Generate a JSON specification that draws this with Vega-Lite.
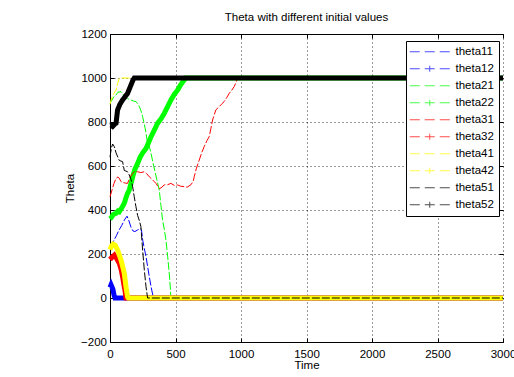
{
  "$schema": "https://vega.github.io/schema/vega-lite/v6.json",
  "width": 393,
  "height": 308,
  "autosize": "none",
  "padding": {"left": 110, "top": 34, "right": 11, "bottom": 35},
  "background": "white",
  "config": {
    "view": {"stroke": null},
    "font": "Liberation Sans"
  },
  "title": {"text": "Theta with different initial values", "font": "Liberation Sans", "fontSize": 11.5, "fontWeight": "normal", "color": "black", "offset": 5},
  "data": {"values": [
    {"series": "theta11", "t": 0, "v": 240}, {"series": "theta11", "t": 10, "v": 235}, {"series": "theta11", "t": 30, "v": 262}, {"series": "theta11", "t": 50, "v": 285}, {"series": "theta11", "t": 70, "v": 310}, {"series": "theta11", "t": 90, "v": 330}, {"series": "theta11", "t": 110, "v": 355}, {"series": "theta11", "t": 130, "v": 372}, {"series": "theta11", "t": 145, "v": 350}, {"series": "theta11", "t": 160, "v": 322}, {"series": "theta11", "t": 175, "v": 305}, {"series": "theta11", "t": 190, "v": 302}, {"series": "theta11", "t": 210, "v": 309}, {"series": "theta11", "t": 230, "v": 315}, {"series": "theta11", "t": 240, "v": 310}, {"series": "theta11", "t": 250, "v": 262}, {"series": "theta11", "t": 262, "v": 225}, {"series": "theta11", "t": 275, "v": 188}, {"series": "theta11", "t": 288, "v": 140}, {"series": "theta11", "t": 300, "v": 97}, {"series": "theta11", "t": 312, "v": 55}, {"series": "theta11", "t": 325, "v": 18}, {"series": "theta11", "t": 330, "v": 0}, {"series": "theta11", "t": 3000, "v": 0},
    {"series": "theta12", "t": 0, "v": 48}, {"series": "theta12", "t": 8, "v": 60}, {"series": "theta12", "t": 15, "v": 50}, {"series": "theta12", "t": 22, "v": 40}, {"series": "theta12", "t": 30, "v": 15}, {"series": "theta12", "t": 38, "v": 0}, {"series": "theta12", "t": 3000, "v": 0},
    {"series": "theta21", "t": 0, "v": 885}, {"series": "theta21", "t": 10, "v": 895}, {"series": "theta21", "t": 30, "v": 915}, {"series": "theta21", "t": 46, "v": 923}, {"series": "theta21", "t": 60, "v": 935}, {"series": "theta21", "t": 84, "v": 938}, {"series": "theta21", "t": 100, "v": 925}, {"series": "theta21", "t": 122, "v": 915}, {"series": "theta21", "t": 140, "v": 905}, {"series": "theta21", "t": 160, "v": 900}, {"series": "theta21", "t": 180, "v": 895}, {"series": "theta21", "t": 198, "v": 893}, {"series": "theta21", "t": 215, "v": 880}, {"series": "theta21", "t": 224, "v": 870}, {"series": "theta21", "t": 237, "v": 850}, {"series": "theta21", "t": 249, "v": 824}, {"series": "theta21", "t": 262, "v": 790}, {"series": "theta21", "t": 275, "v": 750}, {"series": "theta21", "t": 287, "v": 700}, {"series": "theta21", "t": 300, "v": 690}, {"series": "theta21", "t": 313, "v": 658}, {"series": "theta21", "t": 330, "v": 610}, {"series": "theta21", "t": 351, "v": 555}, {"series": "theta21", "t": 376, "v": 491}, {"series": "theta21", "t": 389, "v": 420}, {"series": "theta21", "t": 401, "v": 355}, {"series": "theta21", "t": 415, "v": 310}, {"series": "theta21", "t": 427, "v": 264}, {"series": "theta21", "t": 440, "v": 190}, {"series": "theta21", "t": 452, "v": 113}, {"series": "theta21", "t": 460, "v": 50}, {"series": "theta21", "t": 465, "v": 0}, {"series": "theta21", "t": 3000, "v": 0},
    {"series": "theta22", "t": 0, "v": 360}, {"series": "theta22", "t": 10, "v": 365}, {"series": "theta22", "t": 25, "v": 380}, {"series": "theta22", "t": 46, "v": 385}, {"series": "theta22", "t": 60, "v": 395}, {"series": "theta22", "t": 71, "v": 392}, {"series": "theta22", "t": 90, "v": 410}, {"series": "theta22", "t": 109, "v": 431}, {"series": "theta22", "t": 130, "v": 470}, {"series": "theta22", "t": 147, "v": 491}, {"series": "theta22", "t": 160, "v": 520}, {"series": "theta22", "t": 173, "v": 551}, {"series": "theta22", "t": 190, "v": 585}, {"series": "theta22", "t": 211, "v": 612}, {"series": "theta22", "t": 230, "v": 640}, {"series": "theta22", "t": 250, "v": 660}, {"series": "theta22", "t": 275, "v": 680}, {"series": "theta22", "t": 290, "v": 700}, {"series": "theta22", "t": 313, "v": 733}, {"series": "theta22", "t": 340, "v": 765}, {"series": "theta22", "t": 363, "v": 794}, {"series": "theta22", "t": 390, "v": 815}, {"series": "theta22", "t": 414, "v": 839}, {"series": "theta22", "t": 440, "v": 870}, {"series": "theta22", "t": 465, "v": 900}, {"series": "theta22", "t": 490, "v": 925}, {"series": "theta22", "t": 516, "v": 945}, {"series": "theta22", "t": 540, "v": 970}, {"series": "theta22", "t": 567, "v": 991}, {"series": "theta22", "t": 575, "v": 1000}, {"series": "theta22", "t": 3000, "v": 1000},
    {"series": "theta31", "t": 0, "v": 460}, {"series": "theta31", "t": 15, "v": 490}, {"series": "theta31", "t": 30, "v": 520}, {"series": "theta31", "t": 46, "v": 544}, {"series": "theta31", "t": 60, "v": 550}, {"series": "theta31", "t": 70, "v": 545}, {"series": "theta31", "t": 84, "v": 529}, {"series": "theta31", "t": 100, "v": 525}, {"series": "theta31", "t": 120, "v": 522}, {"series": "theta31", "t": 134, "v": 521}, {"series": "theta31", "t": 150, "v": 545}, {"series": "theta31", "t": 173, "v": 567}, {"series": "theta31", "t": 190, "v": 575}, {"series": "theta31", "t": 211, "v": 574}, {"series": "theta31", "t": 235, "v": 570}, {"series": "theta31", "t": 262, "v": 574}, {"series": "theta31", "t": 280, "v": 565}, {"series": "theta31", "t": 300, "v": 551}, {"series": "theta31", "t": 320, "v": 540}, {"series": "theta31", "t": 338, "v": 529}, {"series": "theta31", "t": 351, "v": 521}, {"series": "theta31", "t": 376, "v": 498}, {"series": "theta31", "t": 389, "v": 500}, {"series": "theta31", "t": 414, "v": 514}, {"series": "theta31", "t": 440, "v": 515}, {"series": "theta31", "t": 465, "v": 521}, {"series": "theta31", "t": 490, "v": 512}, {"series": "theta31", "t": 516, "v": 514}, {"series": "theta31", "t": 540, "v": 508}, {"series": "theta31", "t": 567, "v": 506}, {"series": "theta31", "t": 590, "v": 504}, {"series": "theta31", "t": 618, "v": 515}, {"series": "theta31", "t": 635, "v": 530}, {"series": "theta31", "t": 643, "v": 551}, {"series": "theta31", "t": 660, "v": 590}, {"series": "theta31", "t": 681, "v": 627}, {"series": "theta31", "t": 700, "v": 660}, {"series": "theta31", "t": 719, "v": 688}, {"series": "theta31", "t": 740, "v": 715}, {"series": "theta31", "t": 757, "v": 733}, {"series": "theta31", "t": 770, "v": 770}, {"series": "theta31", "t": 783, "v": 809}, {"series": "theta31", "t": 808, "v": 855}, {"series": "theta31", "t": 834, "v": 870}, {"series": "theta31", "t": 850, "v": 880}, {"series": "theta31", "t": 872, "v": 893}, {"series": "theta31", "t": 890, "v": 910}, {"series": "theta31", "t": 910, "v": 930}, {"series": "theta31", "t": 930, "v": 945}, {"series": "theta31", "t": 948, "v": 961}, {"series": "theta31", "t": 965, "v": 985}, {"series": "theta31", "t": 975, "v": 1000}, {"series": "theta31", "t": 3000, "v": 1000},
    {"series": "theta32", "t": 0, "v": 175}, {"series": "theta32", "t": 15, "v": 185}, {"series": "theta32", "t": 33, "v": 195}, {"series": "theta32", "t": 50, "v": 180}, {"series": "theta32", "t": 71, "v": 158}, {"series": "theta32", "t": 85, "v": 130}, {"series": "theta32", "t": 96, "v": 97}, {"series": "theta32", "t": 105, "v": 65}, {"series": "theta32", "t": 114, "v": 36}, {"series": "theta32", "t": 122, "v": 0}, {"series": "theta32", "t": 3000, "v": 0},
    {"series": "theta41", "t": 0, "v": 880}, {"series": "theta41", "t": 8, "v": 900}, {"series": "theta41", "t": 25, "v": 925}, {"series": "theta41", "t": 46, "v": 945}, {"series": "theta41", "t": 58, "v": 975}, {"series": "theta41", "t": 71, "v": 998}, {"series": "theta41", "t": 78, "v": 1000}, {"series": "theta41", "t": 3000, "v": 1000},
    {"series": "theta42", "t": 0, "v": 220}, {"series": "theta42", "t": 10, "v": 235}, {"series": "theta42", "t": 25, "v": 245}, {"series": "theta42", "t": 40, "v": 240}, {"series": "theta42", "t": 60, "v": 215}, {"series": "theta42", "t": 84, "v": 173}, {"series": "theta42", "t": 100, "v": 135}, {"series": "theta42", "t": 109, "v": 112}, {"series": "theta42", "t": 122, "v": 51}, {"series": "theta42", "t": 134, "v": 5}, {"series": "theta42", "t": 140, "v": 0}, {"series": "theta42", "t": 3000, "v": 0},
    {"series": "theta51", "t": 0, "v": 640}, {"series": "theta51", "t": 10, "v": 680}, {"series": "theta51", "t": 20, "v": 700}, {"series": "theta51", "t": 33, "v": 688}, {"series": "theta51", "t": 46, "v": 660}, {"series": "theta51", "t": 60, "v": 640}, {"series": "theta51", "t": 71, "v": 625}, {"series": "theta51", "t": 96, "v": 620}, {"series": "theta51", "t": 109, "v": 580}, {"series": "theta51", "t": 134, "v": 574}, {"series": "theta51", "t": 147, "v": 559}, {"series": "theta51", "t": 160, "v": 540}, {"series": "theta51", "t": 173, "v": 506}, {"series": "theta51", "t": 185, "v": 460}, {"series": "theta51", "t": 198, "v": 415}, {"series": "theta51", "t": 211, "v": 375}, {"series": "theta51", "t": 225, "v": 350}, {"series": "theta51", "t": 236, "v": 324}, {"series": "theta51", "t": 249, "v": 218}, {"series": "theta51", "t": 262, "v": 127}, {"series": "theta51", "t": 275, "v": 51}, {"series": "theta51", "t": 287, "v": 0}, {"series": "theta51", "t": 3000, "v": 0},
    {"series": "theta52", "t": 0, "v": 785}, {"series": "theta52", "t": 8, "v": 786}, {"series": "theta52", "t": 20, "v": 780}, {"series": "theta52", "t": 35, "v": 790}, {"series": "theta52", "t": 46, "v": 794}, {"series": "theta52", "t": 58, "v": 855}, {"series": "theta52", "t": 75, "v": 880}, {"series": "theta52", "t": 96, "v": 900}, {"series": "theta52", "t": 115, "v": 915}, {"series": "theta52", "t": 134, "v": 930}, {"series": "theta52", "t": 160, "v": 968}, {"series": "theta52", "t": 175, "v": 990}, {"series": "theta52", "t": 185, "v": 1000}, {"series": "theta52", "t": 3000, "v": 1000}
  ]},
  "layer": [
    {
      "mark": {"type": "line", "strokeCap": "butt"},
      "encoding": {
        "x": {"field": "t", "type": "quantitative", "scale": {"domain": [0, 3000], "nice": false, "zero": false},
          "axis": {"orient": "bottom", "values": [0, 500, 1000, 1500, 2000, 2500, 3000], "format": "d", "grid": true, "gridDash": [1, 3], "gridColor": "black", "gridOpacity": 0.8, "tickSize": -4, "tickColor": "black", "domainColor": "black", "labelFont": "Liberation Sans", "labelFontSize": 11.5, "labelColor": "black", "labelPadding": 10, "labelFlush": false, "labelOverlap": false, "title": "Time", "titleFont": "Liberation Sans", "titleFontSize": 11.5, "titleFontWeight": "normal", "titleColor": "black", "titlePadding": 0}},
        "y": {"field": "v", "type": "quantitative", "scale": {"domain": [-200, 1200], "nice": false, "zero": false},
          "axis": {"orient": "left", "values": [-200, 0, 200, 400, 600, 800, 1000, 1200], "format": "d", "grid": true, "gridDash": [1, 3], "gridColor": "black", "gridOpacity": 0.8, "tickSize": -4, "tickColor": "black", "domainColor": "black", "labelFont": "Liberation Sans", "labelFontSize": 11.5, "labelColor": "black", "labelPadding": 7.5, "labelFlush": false, "labelOverlap": false, "title": "Theta", "titleFont": "Liberation Sans", "titleFontSize": 11.5, "titleFontWeight": "normal", "titleColor": "black", "titlePadding": 5}},
        "color": {"field": "series", "type": "nominal",
          "scale": {"domain": ["theta11", "theta12", "theta21", "theta22", "theta31", "theta32", "theta41", "theta42", "theta51", "theta52"],
                    "range": ["#0000ff", "#0000ff", "#00ff00", "#00ff00", "#ff0000", "#ff0000", "#ffff00", "#ffff00", "#000000", "#000000"]},
          "legend": {"orient": "none", "legendX": 296, "legendY": 7, "title": null, "strokeColor": "black", "fillColor": "white", "padding": 5, "labelFont": "Liberation Sans", "labelFontSize": 11.5, "labelColor": "black", "symbolSize": 100, "symbolStrokeWidth": 1, "symbolOffset": 13, "labelOffset": 20, "rowPadding": 4, "symbolLimit": 20}},
        "strokeWidth": {"condition": {"test": {"field": "series", "oneOf": ["theta12", "theta22", "theta32", "theta42", "theta52"]}, "value": 5}, "value": 1},
        "strokeDash": {"condition": {"test": {"field": "series", "oneOf": ["theta12", "theta22", "theta32", "theta42", "theta52"]}, "value": [1, 0]}, "value": [8, 2]}
      }
    },
    {
      "transform": [{"filter": "datum.t < 0"}],
      "mark": {"type": "point", "filled": false},
      "encoding": {
        "x": {"field": "t", "type": "quantitative",
          "axis": {"orient": "top", "values": [0, 500, 1000, 1500, 2000, 2500, 3000], "labels": false, "grid": false, "tickSize": -4, "tickColor": "black", "domain": true, "domainColor": "black", "title": null}},
        "y": {"field": "v", "type": "quantitative",
          "axis": {"orient": "right", "values": [-200, 0, 200, 400, 600, 800, 1000, 1200], "labels": false, "grid": false, "tickSize": -4, "tickColor": "black", "domain": false, "title": null}},
        "color": {"field": "series", "type": "nominal",
          "legend": {"orient": "none", "legendX": 296, "legendY": 7, "title": null, "strokeColor": "black", "fillColor": "white", "padding": 5, "labelFont": "Liberation Sans", "labelFontSize": 11.5, "labelColor": "black", "symbolSize": 100, "symbolStrokeWidth": 1, "symbolOffset": 13, "labelOffset": 20, "rowPadding": 4, "symbolLimit": 20}},
        "shape": {"field": "series", "type": "nominal",
          "scale": {"domain": ["theta11", "theta12", "theta21", "theta22", "theta31", "theta32", "theta41", "theta42", "theta51", "theta52"],
                    "range": ["M-4,0H-2M-1,0H1M2,0H4", "M-4,0H-2M-1,0H1M2,0H4M0,-0.6V0.6", "M-4,0H-2M-1,0H1M2,0H4", "M-4,0H-2M-1,0H1M2,0H4M0,-0.6V0.6", "M-4,0H-2M-1,0H1M2,0H4", "M-4,0H-2M-1,0H1M2,0H4M0,-0.6V0.6", "M-4,0H-2M-1,0H1M2,0H4", "M-4,0H-2M-1,0H1M2,0H4M0,-0.6V0.6", "M-4,0H-2M-1,0H1M2,0H4", "M-4,0H-2M-1,0H1M2,0H4M0,-0.6V0.6"]},
          "legend": {"orient": "none", "legendX": 296, "legendY": 7, "title": null, "strokeColor": "black", "fillColor": "white", "padding": 5, "labelFont": "Liberation Sans", "labelFontSize": 11.5, "labelColor": "black", "symbolSize": 100, "symbolStrokeWidth": 1, "symbolOffset": 13, "labelOffset": 20, "rowPadding": 4, "symbolLimit": 20}}
      }
    }
  ],
  "resolve": {"axis": {"x": "independent", "y": "independent"}}
}
